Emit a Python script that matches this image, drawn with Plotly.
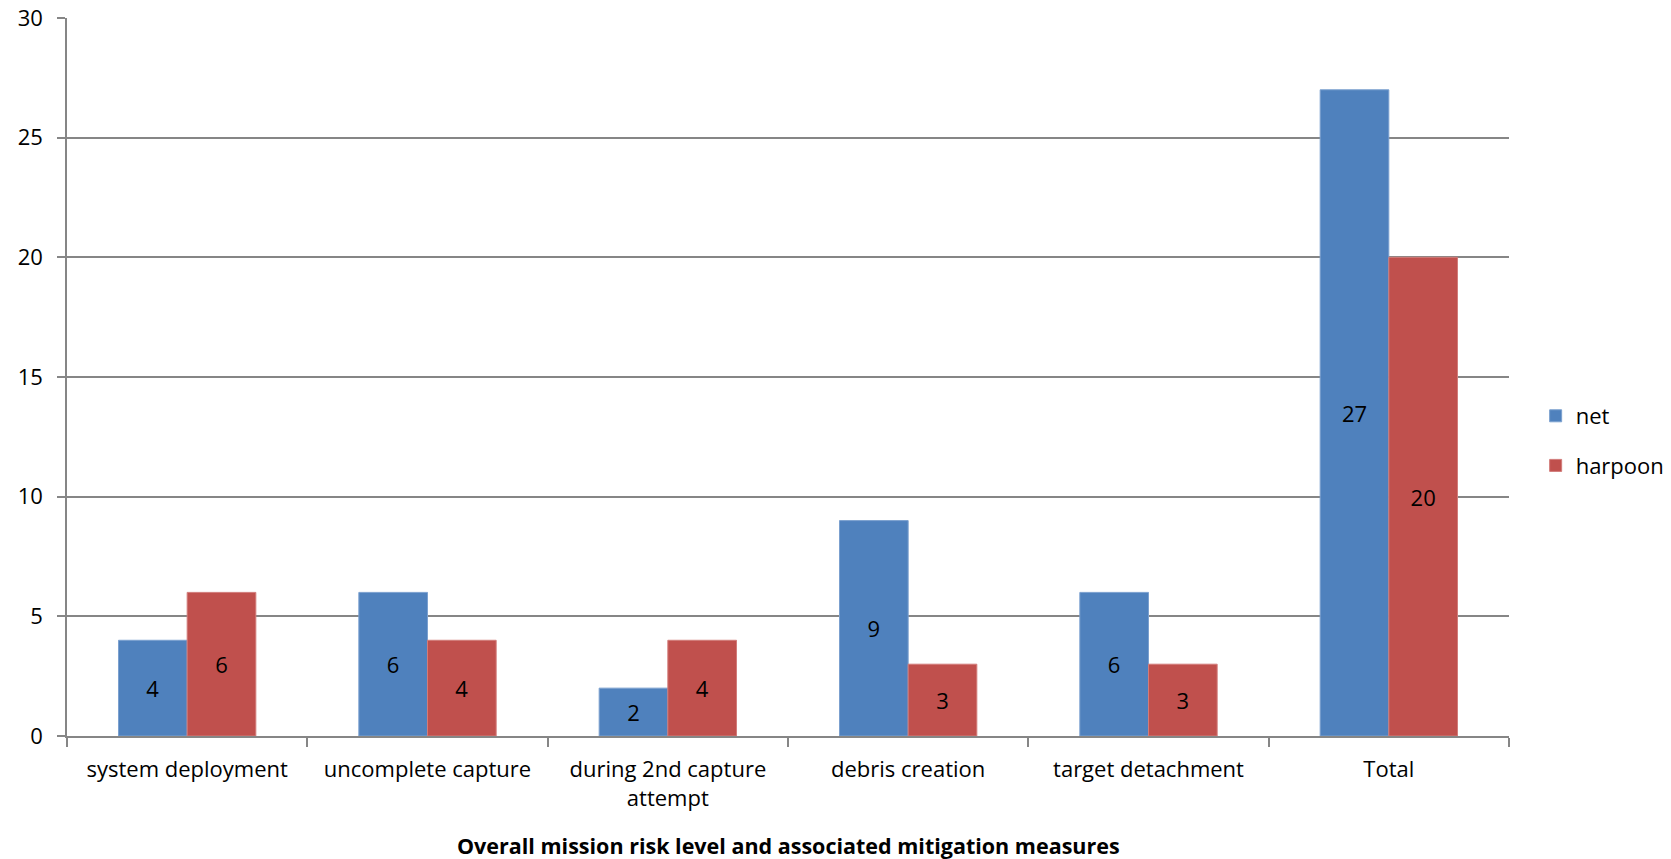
import plotly.graph_objects as go

# Risk categories and scores per capture concept
categories = [
    "system deployment",
    "uncomplete capture",
    "during 2nd capture<br>attempt",
    "debris creation",
    "target detachment",
    "Total",
]
net_scores = [4, 6, 2, 9, 6, 27]
harpoon_scores = [6, 4, 4, 3, 3, 20]
y_ticks = [0, 5, 10, 15, 20, 25, 30]

FONT = "Open Sans"
GRID = "#868686"

fig = go.Figure()
fig.add_trace(go.Bar(
    name="net", x=categories, y=net_scores, legendgroup="net",
    marker=dict(color="#4F81BD", line=dict(color="#7BA0CF", width=1)),
    text=[str(v) for v in net_scores], textposition="inside",
    insidetextanchor="middle", textangle=0, constraintext="none",
    textfont=dict(family=FONT, size=22, color="black"),
))
fig.add_trace(go.Bar(
    name="harpoon", x=categories, y=harpoon_scores, legendgroup="harpoon",
    marker=dict(color="#C0504D", line=dict(color="#D27C7A", width=1)),
    text=[str(v) for v in harpoon_scores], textposition="inside",
    insidetextanchor="middle", textangle=0, constraintext="none",
    textfont=dict(family=FONT, size=22, color="black"),
))

fig.update_layout(
    width=1671, height=859,
    margin=dict(l=67, r=162, t=18, b=123),
    paper_bgcolor="white", plot_bgcolor="white",
    barmode="group", bargap=1.5 / 3.5, bargroupgap=0,
    font=dict(family=FONT, size=22, color="black"),
    showlegend=True,
    legend=dict(
        xref="container", yref="container",
        x=0.919, y=1 - 441 / 859, xanchor="left", yanchor="middle",
        font=dict(family=FONT, size=22, color="black"),
        tracegroupgap=18, traceorder="grouped",
        bgcolor="rgba(0,0,0,0)",
    ),
    xaxis=dict(
        type="category", range=[-0.5, 5.5], automargin=False,
        showline=True, linecolor=GRID, linewidth=1.5,
        ticks="outside", tickson="boundaries", ticklen=9,
        tickcolor=GRID, tickwidth=1.5,
        showgrid=False, ticklabelstandoff=13,
        tickfont=dict(family=FONT, size=22, color="black"),
    ),
    yaxis=dict(
        range=[0, 30], tickvals=y_ticks, automargin=False,
        showline=True, linecolor=GRID, linewidth=1.5,
        ticks="outside", ticklen=8, tickcolor=GRID, tickwidth=1.5,
        showgrid=True, gridcolor=GRID, gridwidth=1.5,
        zeroline=False, ticklabelstandoff=10,
        tickfont=dict(family=FONT, size=22, color="black"),
    ),
)

# Axis caption centred under the plot area
fig.add_annotation(
    text="<b>Overall mission risk level and associated mitigation measures</b>",
    xref="paper", yref="paper", x=0.5, y=-110 / 718,
    xanchor="center", yanchor="middle", showarrow=False,
    font=dict(family=FONT, size=21.5, color="black"),
)

fig.write_html("out.html")
